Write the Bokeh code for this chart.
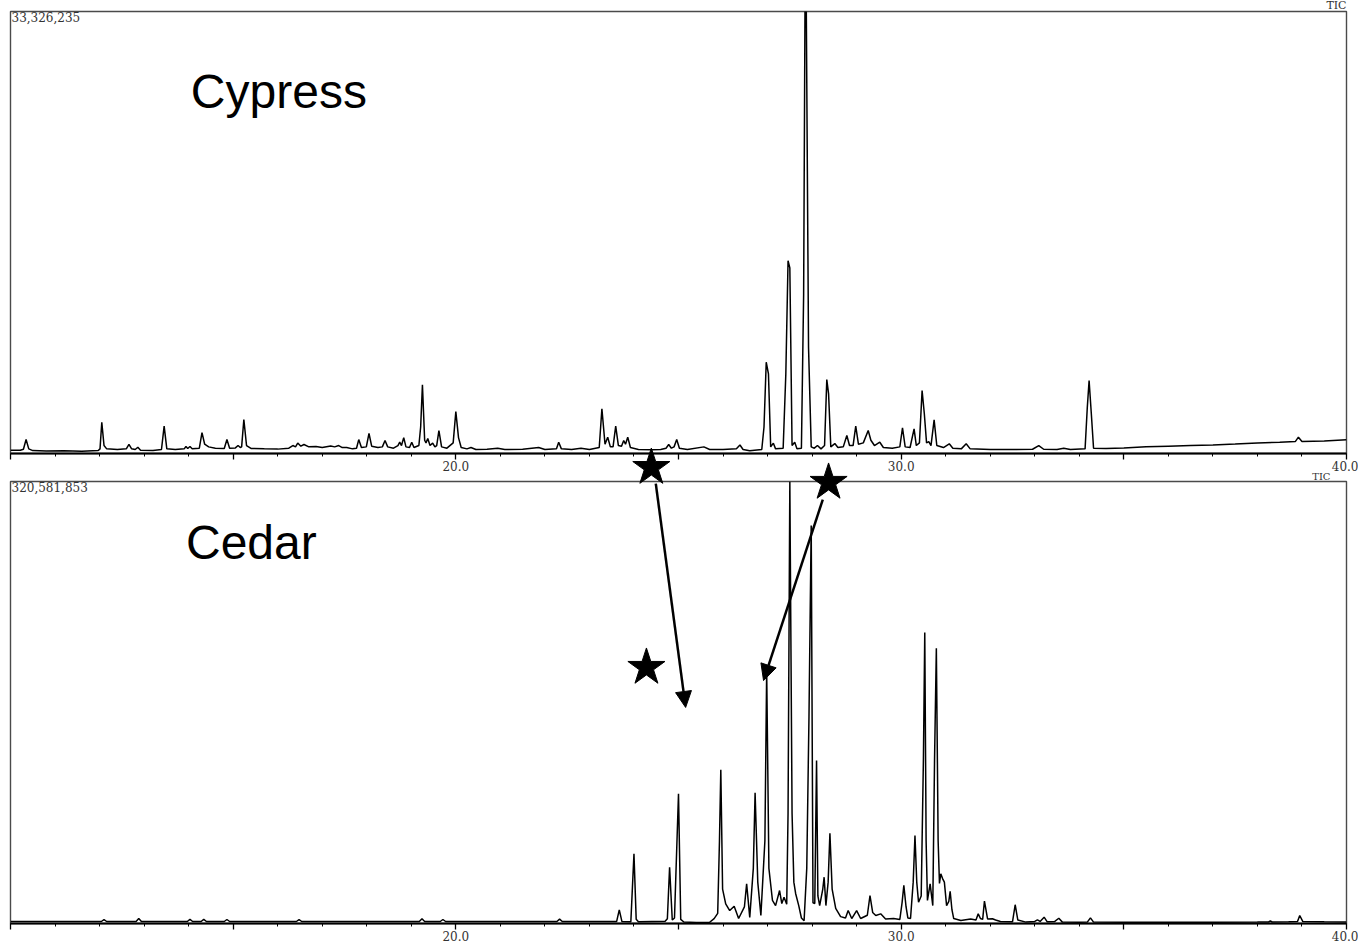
from bokeh.plotting import figure
from bokeh.models import Range1d, FixedTicker, Label, Arrow, NormalHead, ColumnDataSource
from bokeh.layouts import column
from bokeh.embed import file_html
from bokeh.resources import INLINE

# ---------------- axis ----------------
TIME_START, TIME_END = 10.0, 40.0
MAJOR_TICKS = [10, 15, 20, 25, 30, 35, 40]
MINOR_TICKS = [11, 12, 13, 14, 16, 17, 18, 19, 21, 22, 23, 24,
               26, 27, 28, 29, 31, 32, 33, 34, 36, 37, 38, 39]
TICK_LABELS = {10: "", 15: "", 20: "20.0", 25: "", 30: "30.0", 35: "", 40: "40.0"}

SAMPLE_NAMES = ["Cypress", "Cedar"]
TRACE_LABEL = "TIC"
CYPRESS_MAX_COUNTS = 33326235
CEDAR_MAX_COUNTS = 320581853

# ---------------- Cypress TIC (retention time in min, intensity in millions of counts) ----------------
CYPRESS_TIME = [
    10.00, 10.22, 10.29, 10.35, 10.41, 10.50, 10.80, 11.20, 11.60, 11.97,
    12.01, 12.05, 12.10, 12.16, 12.40, 12.60, 12.66, 12.72, 12.80, 12.86, 12.92, 13.20, 13.39,
    13.45, 13.51, 13.70, 13.90, 13.94, 13.98, 14.03, 14.08, 14.24, 14.30, 14.36, 14.45, 14.60, 14.80, 14.86, 14.92, 15.05, 15.11, 15.16, 15.19, 15.24, 15.30, 15.40,
    15.70, 16.00, 16.25, 16.34, 16.40, 16.45, 16.52, 16.59, 16.70, 16.86, 17.00, 17.19, 17.28, 17.37, 17.45, 17.55, 17.68,
    17.77, 17.82, 17.88, 17.99, 18.05, 18.11, 18.25, 18.35, 18.41, 18.47, 18.60, 18.70, 18.74, 18.78, 18.83, 18.88, 18.96, 19.01, 19.06, 19.17,
    19.21, 19.25, 19.30, 19.33, 19.37, 19.42, 19.48, 19.53, 19.57, 19.62, 19.68, 19.80, 19.94, 20.00, 20.06, 20.12,
    20.25, 20.34, 20.45, 20.70, 20.94, 21.10, 21.50, 21.86, 22.00, 22.26, 22.31, 22.37, 22.60, 22.81, 23.00, 23.22,
    23.28, 23.35, 23.41, 23.47, 23.53, 23.59, 23.65, 23.72, 23.77, 23.81, 23.86, 23.92, 24.10, 24.40, 24.60, 24.72, 24.78, 24.84, 24.90, 24.96, 25.02, 25.20, 25.57, 25.70, 26.00, 26.30, 26.38, 26.45, 26.60, 26.87,
    26.92, 26.97, 27.02, 27.07, 27.13, 27.18, 27.35, 27.41, 27.46, 27.50, 27.55, 27.61, 27.66, 27.76, 27.81, 27.84, 27.87, 27.92, 27.98, 28.05, 28.12, 28.20, 28.28, 28.33, 28.37, 28.42,
    28.51, 28.58, 28.70, 28.78, 28.84, 28.92, 28.98, 29.04, 29.15, 29.26, 29.32, 29.40, 29.52, 29.60, 29.80, 29.97, 30.03, 30.09, 30.20, 30.29, 30.34, 30.41, 30.47, 30.52, 30.57, 30.62, 30.67, 30.74, 30.80, 30.95, 31.08, 31.16, 31.35, 31.46, 31.55,
    32.00, 32.50, 32.95, 33.09, 33.20, 33.50, 33.65, 33.80, 34.13, 34.18, 34.22, 34.27, 34.32, 34.60, 35.00, 35.50, 36.00, 36.50, 37.00, 37.50, 38.00, 38.50, 38.85, 38.92, 39.00, 39.50, 40.00,
]
CYPRESS_TIC = [
    0.25, 0.24, 0.32, 1.05, 0.35, 0.22, 0.18, 0.20, 0.17, 0.22,
    0.35, 2.36, 0.60, 0.35, 0.30, 0.35, 0.68, 0.35, 0.30, 0.47, 0.25, 0.22, 0.30,
    2.06, 0.35, 0.30, 0.35, 0.53, 0.38, 0.53, 0.35, 0.40, 1.58, 0.70, 0.50, 0.40, 0.38, 1.05, 0.40, 0.42, 0.60, 0.45, 0.50, 2.56, 0.60, 0.38,
    0.35, 0.33, 0.40, 0.60, 0.50, 0.79, 0.55, 0.68, 0.50, 0.53, 0.45, 0.57, 0.50, 0.60, 0.45, 0.45, 0.35,
    0.40, 1.05, 0.45, 0.50, 1.51, 0.55, 0.45, 0.50, 0.98, 0.50, 0.40, 0.60, 0.85, 0.60, 1.20, 0.50, 0.45, 0.85, 0.45, 0.60,
    2.00, 5.18, 1.00, 0.80, 1.13, 0.60, 0.78, 0.50, 0.60, 1.73, 0.50, 0.40, 0.80, 3.16, 1.20, 0.45,
    0.35, 0.45, 0.30, 0.32, 0.40, 0.30, 0.32, 0.45, 0.30, 0.35, 0.85, 0.35, 0.30, 0.40, 0.30, 0.45,
    3.37, 0.70, 1.23, 0.50, 0.50, 2.06, 0.60, 0.55, 0.98, 0.70, 1.23, 0.45, 0.30, 0.28, 0.30, 0.40, 0.68, 0.40, 0.50, 1.05, 0.40, 0.30, 0.50, 0.30, 0.30, 0.35, 0.64, 0.30, 0.20, 0.30,
    2.00, 6.88, 6.00, 0.50, 0.78, 0.35, 0.40, 6.00, 14.54, 14.00, 0.60, 0.85, 0.35, 0.40, 12.00, 33.33, 33.33, 8.00, 0.50, 0.40, 0.60, 0.35, 0.60, 5.58, 4.50, 0.50,
    0.75, 0.45, 0.50, 1.36, 0.60, 0.60, 2.06, 0.70, 0.80, 1.73, 1.00, 0.60, 0.85, 0.45, 0.40, 0.50, 1.94, 0.50, 0.45, 1.86, 0.60, 0.80, 4.75, 3.00, 0.80, 0.90, 0.60, 2.54, 0.60, 0.45, 0.73, 0.40, 0.35, 0.73, 0.35,
    0.30, 0.30, 0.32, 0.60, 0.32, 0.30, 0.40, 0.30, 0.35, 3.50, 5.50, 3.00, 0.40, 0.38, 0.42, 0.50, 0.55, 0.60, 0.65, 0.72, 0.80, 0.85, 0.90, 1.23, 0.90, 0.95, 1.03,
]

# ---------------- Cedar TIC (retention time in min, intensity in millions of counts) ----------------
CEDAR_TIME = [
    10.00, 11.00, 12.04, 12.10, 12.16, 12.82, 12.88, 12.94, 13.97, 14.03, 14.09, 14.28, 14.34, 14.40, 14.80, 14.86, 14.92, 16.00, 16.42, 16.48, 16.54, 18.00, 19.18, 19.24, 19.30, 19.65, 19.71, 19.77, 21.00, 22.27, 22.33, 22.39, 23.00, 23.55,
    23.61, 23.67, 23.73, 23.93, 24.00, 24.05, 24.10, 24.70, 24.75, 24.80, 24.86, 24.91, 25.00, 25.05, 25.12, 25.40, 25.70, 25.80, 25.88,
    25.92, 25.95, 25.99, 26.06, 26.15, 26.25, 26.35, 26.48, 26.53, 26.60, 26.68, 26.72, 26.78, 26.85, 26.94, 26.98, 27.03, 27.11, 27.18, 27.27, 27.32, 27.37, 27.43,
    27.46, 27.50, 27.55, 27.59, 27.63, 27.70, 27.76, 27.82, 27.88, 27.93, 27.98, 28.02, 28.06, 28.10, 28.13, 28.17, 28.24, 28.27, 28.31, 28.36, 28.40, 28.45, 28.53,
    28.64, 28.75, 28.81, 28.89, 29.00, 29.09, 29.24, 29.30, 29.36, 29.43, 29.54, 29.65, 29.83, 29.97, 30.02, 30.06, 30.11, 30.15, 30.21,
    30.27, 30.31, 30.35, 30.39, 30.45, 30.50, 30.53, 30.56, 30.59, 30.65, 30.71, 30.75, 30.79, 30.83, 30.86, 30.89, 30.93, 30.97, 31.02, 31.07, 31.10, 31.14, 31.18, 31.34,
    31.56, 31.68, 31.73, 31.78, 31.83, 31.87, 31.94, 32.05, 32.12, 32.23, 32.50, 32.56, 32.62, 32.80, 33.00, 33.06, 33.12, 33.21, 33.28, 33.45, 33.54, 33.62, 34.00, 34.18, 34.25, 34.32, 35.00, 36.00, 37.00, 38.00, 38.25, 38.29, 38.33, 38.70, 38.90, 38.95, 39.02, 39.50, 40.00,
]
CEDAR_TIC = [
    1.45, 1.40, 1.45, 2.80, 1.45, 1.45, 3.60, 1.45, 1.45, 3.00, 1.45, 1.45, 3.00, 1.45, 1.45, 2.90, 1.45, 1.40, 1.45, 2.80, 1.45, 1.40, 1.45, 3.40, 1.45, 1.45, 2.90, 1.45, 1.40, 1.45, 3.20, 1.45, 1.40, 1.45,
    1.40, 9.94, 1.40, 1.30, 50.60, 3.00, 1.20, 1.60, 3.50, 40.80, 2.50, 4.00, 94.10, 3.00, 1.10, 0.80, 0.90, 3.50, 7.30,
    60.00, 111.50, 25.00, 14.30, 9.40, 12.50, 3.60, 12.00, 28.80, 4.40, 40.00, 94.80, 30.00, 5.80, 60.00, 183.50, 40.00, 16.70, 13.00, 23.90, 14.50, 19.10, 14.00,
    80.00, 320.58, 80.00, 30.00, 21.80, 13.00, 4.00, 2.00, 40.00, 150.00, 288.70, 15.00, 14.50, 118.20, 20.00, 13.00, 25.00, 33.60, 13.00, 30.00, 65.50, 25.00, 10.90,
    5.00, 4.00, 9.40, 3.60, 9.40, 3.60, 6.00, 20.30, 8.00, 5.80, 7.00, 3.30, 3.60, 2.90, 15.00, 27.60, 12.00, 4.00, 3.60,
    30.00, 63.80, 30.00, 15.40, 20.00, 120.00, 211.00, 60.00, 16.70, 28.80, 13.00, 120.00, 199.70, 60.00, 29.00, 36.00, 32.60, 30.00, 13.00, 16.00, 23.40, 10.00, 3.60, 2.20,
    3.30, 2.50, 7.00, 3.60, 3.00, 16.20, 3.30, 3.40, 2.50, 1.45, 1.20, 13.60, 2.50, 1.00, 1.50, 2.70, 1.50, 4.60, 1.20, 1.50, 3.80, 1.00, 0.95, 1.00, 4.10, 1.00, 0.90, 0.90, 0.95, 1.00, 1.10, 1.80, 1.10, 1.20, 1.50, 5.80, 1.40, 1.20, 1.10,
]

assert len(CYPRESS_TIME) == len(CYPRESS_TIC)
assert len(CEDAR_TIME) == len(CEDAR_TIC)

# ---------------- annotations (Cedar-panel data units: min, millions of counts) ----------------
STARS_CEDAR_T = [24.39, 28.37, 24.28]
STARS_CEDAR_I = [330.7, 319.9, 185.7]
ARROWS_CEDAR = [((24.49, 319.1), (25.16, 156.7)), ((28.24, 307.5), (26.91, 176.2))]
NAME_POS = [(14.05, 27.33), (13.94, 276.7)]

# ---------------- layout (page pixels) ----------------
WIDTH = 1358
BORDER_LEFT, BORDER_RIGHT = 10, 12
FRAME_H = 442
TOP_H, TOP_BT, TOP_BB = 478, 11, 25
BOT_H, BOT_BT, BOT_BB = 468, 3, 23
PAGE_H = TOP_H + BOT_H

TOP_MAX = CYPRESS_MAX_COUNTS / 1e6
BOT_MAX = CEDAR_MAX_COUNTS / 1e6

SERIF = "DejaVu Serif"
LABEL_GRAY = "#333333"


def panel(height, b_top, b_bottom, ymax):
    p = figure(width=WIDTH, height=height,
               x_range=Range1d(TIME_START, TIME_END), y_range=Range1d(0, ymax),
               output_backend="svg", toolbar_location=None, y_axis_location=None,
               min_border_left=BORDER_LEFT, min_border_right=BORDER_RIGHT,
               min_border_top=b_top, min_border_bottom=b_bottom,
               background_fill_color="white", border_fill_color="white")
    p.grid.visible = False
    p.outline_line_color = "#4a4a4a"
    p.outline_line_width = 1.4
    ax = p.xaxis[0]
    ax.ticker = FixedTicker(ticks=MAJOR_TICKS, minor_ticks=MINOR_TICKS)
    ax.major_label_overrides = TICK_LABELS
    ax.axis_line_color = "black"
    ax.axis_line_width = 2
    ax.major_tick_line_color = "black"
    ax.major_tick_line_width = 1.3
    ax.major_tick_in = 0
    ax.major_tick_out = 6
    ax.minor_tick_line_color = "black"
    ax.minor_tick_line_width = 1
    ax.minor_tick_in = 0
    ax.minor_tick_out = 3
    ax.major_label_standoff = 1
    ax.major_label_text_font = SERIF
    ax.major_label_text_font_size = "12px"
    ax.major_label_text_color = LABEL_GRAY
    return p


def add_common(p, times, tic, ymax, max_counts, name, name_pos):
    src = ColumnDataSource(dict(time=times, tic=tic))
    p.line(x="time", y="tic", source=src, line_color="black", line_width=1.5)
    p.add_layout(Label(x=TIME_START, y=ymax, x_offset=1, text=f"{max_counts:,}",
                       text_baseline="top", text_align="left", text_font=SERIF,
                       text_font_size="12px", text_color=LABEL_GRAY))
    p.add_layout(Label(x=name_pos[0], y=name_pos[1], text=name, text_baseline="alphabetic",
                       text_align="left", text_font="Liberation Sans", text_font_size="48px",
                       text_color="black"))


p_top = panel(TOP_H, TOP_BT, TOP_BB, TOP_MAX)
p_bot = panel(BOT_H, BOT_BT, BOT_BB, BOT_MAX)
add_common(p_top, CYPRESS_TIME, CYPRESS_TIC, TOP_MAX, CYPRESS_MAX_COUNTS, SAMPLE_NAMES[0], NAME_POS[0])
add_common(p_bot, CEDAR_TIME, CEDAR_TIC, BOT_MAX, CEDAR_MAX_COUNTS, SAMPLE_NAMES[1], NAME_POS[1])

# ---------------- transparent overlay for the marks that cross both panels ----------------
px_per_min = (WIDTH - BORDER_LEFT - BORDER_RIGHT) / (TIME_END - TIME_START)
px_per_m = FRAME_H / BOT_MAX
bot_frame_top = TOP_H + BOT_BT
ov_x = Range1d(TIME_START - BORDER_LEFT / px_per_min, TIME_END + BORDER_RIGHT / px_per_min)
ov_y = Range1d(BOT_MAX - (PAGE_H - bot_frame_top) / px_per_m, BOT_MAX + bot_frame_top / px_per_m)


def page_to_cedar(py):
    return BOT_MAX + (bot_frame_top - py) / px_per_m


ov = figure(width=WIDTH, height=PAGE_H, x_range=ov_x, y_range=ov_y,
            output_backend="svg", toolbar_location=None,
            x_axis_location=None, y_axis_location=None, min_border=0,
            outline_line_color=None, background_fill_alpha=0, border_fill_alpha=0,
            styles={"position": "absolute", "top": "0px", "left": "0px"})
ov.grid.visible = False

ov.scatter(x=STARS_CEDAR_T, y=STARS_CEDAR_I, marker="star", size=39,
           fill_color="black", line_color="black")
for (x0, y0), (x1, y1) in ARROWS_CEDAR:
    ov.add_layout(Arrow(end=NormalHead(size=16, fill_color="black", line_color="black", line_width=1),
                        x_start=x0, y_start=y0, x_end=x1, y_end=y1,
                        line_color="black", line_width=2.5))

# "TIC" trace labels at the upper right of each panel
ov.add_layout(Label(x=TIME_END, y=page_to_cedar(4.5), text=TRACE_LABEL, text_baseline="alphabetic",
                    text_align="right", text_font=SERIF, text_font_size="11px", text_color=LABEL_GRAY))
ov.add_layout(Label(x=TIME_END, y=page_to_cedar(476), x_offset=-16, text=TRACE_LABEL,
                    text_baseline="alphabetic", text_align="right", text_font=SERIF,
                    text_font_size="10px", text_color=LABEL_GRAY))

layout = column(p_top, p_bot)
open("out.html", "w").write(file_html([layout, ov], INLINE))
